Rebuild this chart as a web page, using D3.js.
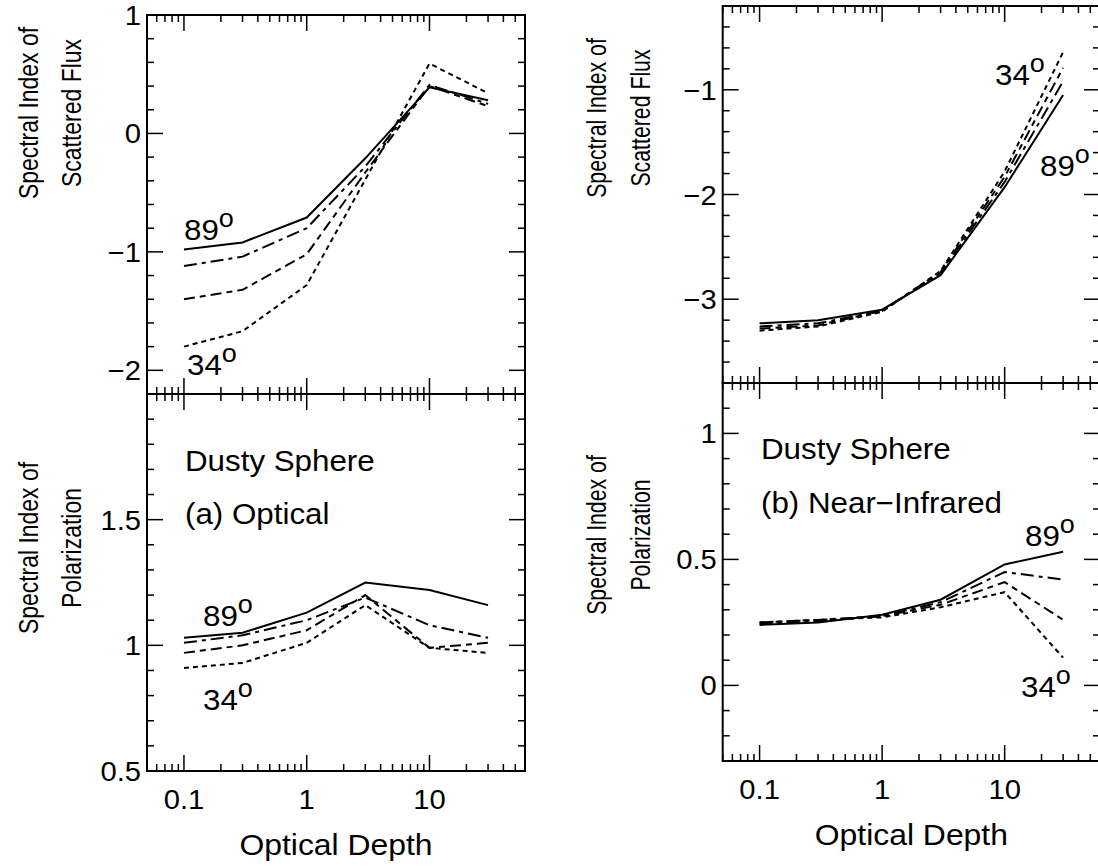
<!DOCTYPE html>
<html><head><meta charset="utf-8">
<script src="https://cdn.jsdelivr.net/npm/d3@7"></script>
<style>
html,body{margin:0;padding:0;background:#fff;}
svg{display:block;font-family:"Liberation Sans",Arial,Helvetica,sans-serif;}
</style></head>
<body>
<svg id="c" width="1098" height="866"></svg>
<script>
// ---- data ----
const depth = [0.1, 0.3, 1, 3, 10, 30];
const xTickLabels = ["0.1", "1", "10"];
const angleLabels = ["89°", "34°"];

// (a) Optical — spectral index of scattered flux
const optFlux89 = [-0.98, -0.92, -0.71, -0.21, 0.39, 0.28];
const optFluxB  = [-1.12, -1.04, -0.80, -0.28, 0.41, 0.25];
const optFluxC  = [-1.40, -1.32, -1.02, -0.33, 0.40, 0.23];
const optFlux34 = [-1.80, -1.67, -1.28, -0.39, 0.59, 0.34];
// (a) Optical — spectral index of polarization
const optPol89 = [1.03, 1.05, 1.13, 1.25, 1.22, 1.16];
const optPolB  = [1.01, 1.04, 1.10, 1.19, 1.08, 1.03];
const optPolC  = [0.97, 1.00, 1.06, 1.20, 0.99, 1.01];
const optPol34 = [0.91, 0.93, 1.01, 1.16, 0.99, 0.97];
// (b) Near-infrared — spectral index of scattered flux
const nirFlux89 = [-3.23, -3.20, -3.10, -2.77, -1.93, -1.05];
const nirFluxB  = [-3.26, -3.23, -3.11, -2.75, -1.88, -0.92];
const nirFluxC  = [-3.28, -3.25, -3.11, -2.74, -1.83, -0.79];
const nirFlux34 = [-3.30, -3.26, -3.12, -2.73, -1.78, -0.64];
// (b) Near-infrared — spectral index of polarization
const nirPol89 = [0.24, 0.25, 0.28, 0.34, 0.48, 0.53];
const nirPolB  = [0.245, 0.255, 0.275, 0.33, 0.45, 0.42];
const nirPolC  = [0.25, 0.26, 0.275, 0.32, 0.41, 0.26];
const nirPol34 = [0.25, 0.26, 0.27, 0.31, 0.37, 0.11];

const fluxTicksA = [-2, -1, 0, 1];
const polTicksA  = [0.5, 1, 1.5];
const fluxTicksB = [-3, -2, -1];
const polTicksB  = [0, 0.5, 1];

// ---- drawing ----
const svg = d3.select("#c");
const dashes = [null, "13,5,4,5", "11,5,6,5", "5,4"];
const FS = 27, ANN = 29, SX = 1.08;

function txt(g, x, y, str, size, anchor, sx) {
  return g.append("text")
    .attr("transform", `translate(${x},${y}) scale(${sx},1)`)
    .attr("text-anchor", anchor || "start").attr("font-size", size).text(str);
}

function panel(o) {
  const g = svg.append("g");
  const x = d3.scaleLog().domain([0.05, 60]).range([o.x0, o.x1]);
  const y = d3.scaleLinear().domain(o.ydom).range([o.y1, o.y0]);
  g.append("rect").attr("x", o.x0).attr("y", o.y0)
    .attr("width", o.x1 - o.x0).attr("height", o.y1 - o.y0)
    .attr("fill", "none").attr("stroke", "#000").attr("stroke-width", 2);
  x.ticks().forEach(v => {
    const major = Math.abs(Math.log10(v) - Math.round(Math.log10(v))) < 1e-9;
    const L = major ? 16 : 7;
    const px = x(v);
    g.append("line").attr("x1", px).attr("x2", px).attr("y1", o.y1).attr("y2", o.y1 - L)
      .attr("stroke", "#000").attr("stroke-width", 1.5);
    g.append("line").attr("x1", px).attr("x2", px).attr("y1", o.y0).attr("y2", o.y0 + L)
      .attr("stroke", "#000").attr("stroke-width", 1.5);
  });
  if (o.xLabels) {
    [0.1, 1, 10].forEach((v, i) => txt(g, x(v), o.y1 + 38, xTickLabels[i], FS, "middle", SX));
    txt(g, (o.x0 + o.x1) / 2, o.y1 + 84, "Optical Depth", ANN, "middle", 1.1);
  }
  const [d0, d1] = o.ydom;
  const minors = d3.range(Math.ceil(d0 / o.minor - 1e-6), Math.floor(d1 / o.minor + 1e-6) + 1)
    .map(k => +(k * o.minor).toFixed(6));
  minors.forEach(v => {
    const major = o.majors.some(m => Math.abs(m - v) < 1e-6);
    const L = major ? 16 : 7;
    const py = y(v);
    g.append("line").attr("x1", o.x0).attr("x2", o.x0 + L).attr("y1", py).attr("y2", py)
      .attr("stroke", "#000").attr("stroke-width", 1.5);
    g.append("line").attr("x1", o.x1).attr("x2", o.x1 - L).attr("y1", py).attr("y2", py)
      .attr("stroke", "#000").attr("stroke-width", 1.5);
  });
  const fmt = d3.format("");
  o.majors.forEach(v => {
    txt(g, o.x0 - 6, y(v) + 10, fmt(v), FS, "end", SX);
  });
  o.title.forEach((t, i) => {
    g.append("text")
      .attr("transform", `translate(${o.titleX[i]},${o.titleY}) rotate(-90) scale(${o.titleS},1)`)
      .attr("text-anchor", "middle").attr("font-size", 28).text(t);
  });
  const line = d3.line().x(d => x(d[0])).y(d => y(d[1]));
  o.series.forEach((s, i) => {
    g.append("path").datum(depth.map((d, k) => [d, s[k]]))
      .attr("d", line).attr("fill", "none").attr("stroke", "#000")
      .attr("stroke-width", 2).attr("stroke-dasharray", dashes[i]);
  });
  (o.notes || []).forEach(n => {
    const t = txt(g, n.x, n.y, "", ANN, "start", SX);
    if (n.deg) {
      t.append("tspan").text(n.text.replace("°", ""));
      t.append("tspan").attr("font-size", 25).attr("dy", -13).text("o");
    } else t.text(n.text);
  });
}

const LX0 = 147, LX1 = 525, RX0 = 722.7, RX1 = 1100;

panel({ x0: LX0, x1: LX1, y0: 15, y1: 394, ydom: [-2.2, 1.0], minor: 0.2, majors: fluxTicksA,
  title: ["Spectral Index of", "Scattered Flux"], titleX: [38, 81], titleY: 113, titleS: 0.82,
  series: [optFlux89, optFluxB, optFluxC, optFlux34],
  notes: [{ x: 184, y: 240, text: angleLabels[0], deg: true }, { x: 187, y: 375, text: angleLabels[1], deg: true }] });

panel({ x0: LX0, x1: LX1, y0: 394, y1: 771, ydom: [0.5, 2.0], minor: 0.1, majors: polTicksA, xLabels: true,
  title: ["Spectral Index of", "Polarization"], titleX: [38, 81], titleY: 548, titleS: 0.82,
  series: [optPol89, optPolB, optPolC, optPol34],
  notes: [{ x: 185, y: 471, text: "Dusty Sphere" }, { x: 185, y: 524, text: "(a) Optical" },
          { x: 203, y: 626, text: angleLabels[0], deg: true }, { x: 203, y: 710, text: angleLabels[1], deg: true }] });

panel({ x0: RX0, x1: RX1, y0: 6, y1: 383, ydom: [-3.8, -0.2], minor: 0.2, majors: fluxTicksB,
  title: ["Spectral Index of", "Scattered Flux"], titleX: [606, 650], titleY: 118, titleS: 0.76,
  series: [nirFlux89, nirFluxB, nirFluxC, nirFlux34],
  notes: [{ x: 995, y: 85, text: angleLabels[1], deg: true }, { x: 1040, y: 176, text: angleLabels[0], deg: true }] });

panel({ x0: RX0, x1: RX1, y0: 383, y1: 761, ydom: [-0.3, 1.2], minor: 0.1, majors: polTicksB, xLabels: true,
  title: ["Spectral Index of", "Polarization"], titleX: [606, 650], titleY: 535, titleS: 0.76,
  series: [nirPol89, nirPolB, nirPolC, nirPol34],
  notes: [{ x: 761, y: 459, text: "Dusty Sphere" }, { x: 761, y: 513, text: "(b) Near−Infrared" },
          { x: 1025, y: 546, text: angleLabels[0], deg: true }, { x: 1021, y: 697, text: angleLabels[1], deg: true }] });
</script>
</body></html>
